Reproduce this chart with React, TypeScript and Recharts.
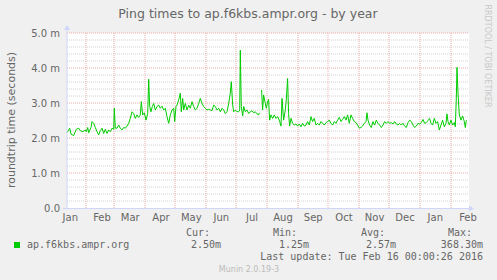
import { LineChart, Line, XAxis, YAxis, CartesianGrid, ReferenceLine } from 'recharts'

// x = days since Jan 13 2015, y = roundtrip time in ms
const days = [
  0, 1.7, 2.7, 4, 6.7, 9.3, 11.7, 13.3, 16, 18.3,
  19.3, 20.7, 21.7, 24, 25, 26.7, 28.3, 30, 31.7, 33.3,
  35, 36.7, 38.3, 40, 41.7, 43.3, 45, 46.7, 47.3, 48.3,
  50, 51.7, 53.3, 55, 56.7, 58.3, 60, 61.7, 63.3, 65,
  66.7, 68.3, 70, 71.7, 73.3, 74.3, 75.7, 77.3, 79, 80.7,
  81.7, 82.7, 84, 85.3, 86.7, 88.3, 90, 91.7, 93.3, 95,
  96.7, 98.3, 100, 101.7, 103.3, 105, 106.7, 107.7, 109, 110,
  111.7, 113.3, 114.3, 115.7, 116.7, 118.3, 120, 121.7, 123.3, 125,
  126.7, 128.3, 130, 131.7, 133.3, 135, 136.7, 138.3, 140, 141.7,
  143.3, 145, 146.7, 148.3, 150, 151.7, 153.3, 155, 156.7, 158.3,
  160, 161.7, 163.3, 164.3, 165.7, 166.7, 168.3, 170, 171.7, 172.7,
  173.3, 174.3, 175.7, 176.7, 178.3, 180, 181.7, 183.3, 185, 186.7,
  188.3, 190, 191.7, 192.3, 193.5, 194.6, 195.6, 196.6, 198.3, 199.3,
  200.6, 201.6, 202.6, 204, 205.6, 207.3, 209, 210.6, 212.3, 214,
  215, 216.6, 218.3, 219.3, 220.6, 221.6, 222.6, 224, 225.6, 227.3,
  229, 230.6, 232.3, 234, 235.6, 237.3, 239, 240.6, 242.3, 244,
  245.6, 247.3, 249, 250.6, 252.3, 254, 255.6, 257.3, 259, 260.6,
  262.3, 264, 265.6, 267.3, 269, 270.6, 272.3, 274, 275.6, 277.3,
  279, 280.6, 282.3, 284, 285.6, 287.3, 289, 290.6, 292.3, 294,
  295.6, 297.3, 299, 300, 301, 302.6, 304.3, 306, 307.6, 309.3,
  311, 312.6, 314.3, 316, 317.6, 319.3, 321, 322.6, 324.3, 326,
  327.6, 329.3, 331, 332.6, 334.3, 336, 337.6, 339.3, 341, 342.6,
  344.3, 346, 347.6, 349.3, 351, 352.6, 354.3, 356, 357.6, 359.3,
  361, 362.6, 364, 365.6, 367.3, 369, 370.6, 372.3, 374, 375.6,
  377.3, 379, 380, 381, 382.3, 384, 385.6, 387.3, 388.3, 389.3,
  390, 391, 392.3, 394, 395.6, 397.3, 398.3, 399.3,
]

const rtt = [
  2.15, 2.23, 2.28, 2.11, 2.07, 2.25, 2.28, 2.21, 2.18, 2.23,
  2.18, 2.30, 2.15, 2.30, 2.47, 2.42, 2.30, 2.18, 2.09, 2.21,
  2.28, 2.13, 2.25, 2.13, 2.23, 2.18, 2.28, 2.25, 2.85, 2.28,
  2.28, 2.37, 2.28, 2.23, 2.30, 2.28, 2.34, 2.42, 2.56, 2.75,
  2.70, 2.56, 2.66, 2.59, 2.66, 3.04, 2.66, 2.72, 2.51, 2.70,
  3.68, 2.90, 2.75, 2.90, 2.99, 2.80, 2.90, 2.94, 2.85, 2.91,
  2.80, 2.85, 2.61, 2.42, 2.66, 2.80, 2.85, 2.47, 2.90, 2.94,
  3.09, 3.28, 2.75, 3.13, 2.80, 2.99, 2.80, 2.94, 2.85, 3.04,
  2.90, 2.80, 2.85, 2.99, 3.13, 2.99, 2.90, 2.85, 2.80, 2.82,
  2.80, 2.78, 2.94, 2.90, 2.80, 2.85, 2.75, 2.85, 2.80, 2.70,
  2.75, 2.99, 3.28, 3.61, 2.94, 2.75, 2.80, 2.75, 2.75, 2.80,
  4.51, 2.90, 2.63, 2.90, 2.75, 2.80, 2.70, 2.75, 2.78, 2.72,
  2.75, 2.69, 2.66, 2.72, null, 3.37, 2.80, 3.23, 2.99, 2.85,
  3.04, 3.10, 2.51, 2.66, 2.56, 2.66, 2.56, 2.61, 2.51, 2.34,
  3.13, 2.51, 2.80, 3.09, 3.70, 2.70, 2.34, 2.56, 2.42, 2.37,
  2.40, 2.34, 2.40, 2.32, 2.42, 2.34, 2.37, 2.47, 2.37, 2.61,
  2.47, 2.56, 2.37, 2.42, 2.37, 2.47, 2.42, 2.37, 2.44, 2.47,
  2.51, 2.42, 2.37, 2.47, 2.42, 2.51, 2.59, 2.47, 2.53, 2.61,
  2.51, 2.66, 2.42, 2.66, 2.56, 2.47, 2.44, 2.37, 2.28, 2.30,
  2.34, 2.42, 2.47, 2.72, 2.51, 2.37, 2.30, 2.47, 2.37, 2.51,
  2.42, 2.37, 2.30, 2.37, 2.47, 2.42, 2.47, 2.42, 2.44, 2.40,
  2.47, 2.40, 2.37, 2.42, 2.37, 2.42, 2.34, 2.30, 2.44, 2.51,
  2.47, 2.37, 2.30, 2.34, 2.42, 2.40, 2.44, 2.53, 2.42, 2.44,
  2.50, 2.56, 2.42, 2.37, 2.56, 2.42, 2.47, 2.23, 2.37, 2.51,
  2.32, 2.42, 2.69, 2.47, 2.37, 2.51, 2.37, 2.44, 2.32, 3.13,
  4.02, 3.28, 2.66, 2.51, 2.63, 2.47, 2.30, 2.51,
]

const monthStarts = [19, 47, 78, 108, 139, 169, 200, 231, 261, 292, 322, 353, 384]
const monthTicks = [3.3, 35, 63.3, 94, 124.3, 154.3, 185, 216, 246.3, 277, 307.6, 338, 368.3, 401]
const monthLabels = ['Jan', 'Feb', 'Mar', 'Apr', 'May', 'Jun', 'Jul', 'Aug', 'Sep', 'Oct', 'Nov', 'Dec', 'Jan', 'Feb']
const yTicks = [0, 1, 2, 3, 4, 5]

const data = days.map((d, i) => ({ day: d, rtt: rtt[i] }))

const minorY: number[] = []
for (let i = 1; i < 25; i++) if (i % 5 !== 0) minorY.push(i / 5)

const FONT = 'DejaVu Sans'
const MONO = 'DejaVu Sans Mono'
const TXT = '#666666'
const AXIS = '#cfd6f8'

export default function App() {
  return (
    <div style={{ position: 'absolute', left: 0, top: 0, width: 497, height: 280, background: '#f0f0f0' }}>
      <LineChart width={497} height={280} data={data} margin={{ top: 33, right: 28, bottom: 0, left: 0 }}>
        <CartesianGrid fill="#ffffff" horizontal={false} vertical={false} />
        {minorY.map((v) => (
          <ReferenceLine key={`mn-${v}`} y={v} stroke="#d2d2d2" strokeDasharray="1 1" />
        ))}
        {yTicks.slice(1).map((v) => (
          <ReferenceLine key={`mj-${v}`} y={v} stroke="#eeaaaa" strokeDasharray="1 1" />
        ))}
        {monthStarts.map((d) => (
          <ReferenceLine key={`ms-${d}`} x={d} stroke="#eeaaaa" strokeDasharray="1 1" />
        ))}
        <XAxis
          type="number"
          dataKey="day"
          domain={[0, 402]}
          ticks={monthTicks}
          interval={0}
          height={72}
          axisLine={false}
          tickLine={false}
          tickSize={4}
          tickMargin={2}
          tickFormatter={(v: number) => monthLabels[monthTicks.indexOf(v)]}
          tick={{ fill: TXT, fontSize: 10, fontFamily: FONT }}
        />
        <YAxis
          domain={[0, 5]}
          ticks={yTicks}
          width={67}
          axisLine={false}
          tickLine={false}
          tickSize={5}
          tickMargin={2}
          tickFormatter={(v: number) => (v === 0 ? '0.0' : `${v.toFixed(1)} m`)}
          tick={{ fill: TXT, fontSize: 10, fontFamily: FONT }}
        />
        <Line
          type="linear"
          dataKey="rtt"
          stroke="#00cc00"
          strokeWidth={1}
          dot={false}
          connectNulls={false}
          isAnimationActive={false}
        />
      </LineChart>
      <svg width={497} height={280} style={{ position: 'absolute', left: 0, top: 0, pointerEvents: 'none' }}>
        {/* axes with arrows */}
        <line x1={67} y1={208.5} x2={67} y2={29} stroke={AXIS} />
        <polygon points="64,30 70,30 67,25" fill={AXIS} />
        <line x1={63} y1={208.5} x2={470} y2={208.5} stroke={AXIS} />
        <polygon points="469,205.5 469,211.5 474,208.5" fill={AXIS} />

        <text x={248} y={18} textAnchor="middle" fontFamily={FONT} fontSize={12.5} fill={TXT}>
          Ping times to ap.f6kbs.ampr.org - by year
        </text>
        <text
          x={11}
          y={120}
          transform="rotate(-90 11 120)"
          textAnchor="middle"
          dominantBaseline="central"
          fontFamily={FONT}
          fontSize={11}
          fill={TXT}
        >
          roundtrip time (seconds)
        </text>
        <text
          x={487}
          y={56}
          transform="rotate(90 487 56)"
          textAnchor="middle"
          dominantBaseline="central"
          fontFamily={FONT}
          fontSize={8}
          fill="#c8c8c8"
        >
          RRDTOOL / TOBI OETIKER
        </text>

        {/* legend */}
        <g fontFamily={MONO} fontSize={10} fill={TXT}>
          <text x={186} y={236}>Cur:</text>
          <text x={273} y={236}>Min:</text>
          <text x={361} y={236}>Avg:</text>
          <text x={448} y={236}>Max:</text>
          <rect x={14} y={242} width={6} height={6} fill="#00cc00" />
          <text x={27} y={248}>ap.f6kbs.ampr.org</text>
          <text x={221} y={248} textAnchor="end">2.50m</text>
          <text x={309} y={248} textAnchor="end">1.25m</text>
          <text x={396} y={248} textAnchor="end">2.57m</text>
          <text x={483} y={248} textAnchor="end">368.30m</text>
          <text x={483} y={260} textAnchor="end">Last update: Tue Feb 16 00:00:26 2016</text>
        </g>
        <text x={249} y={272} textAnchor="middle" fontFamily={FONT} fontSize={8} fill="#bbbbbb">
          Munin 2.0.19-3
        </text>
      </svg>
    </div>
  )
}
